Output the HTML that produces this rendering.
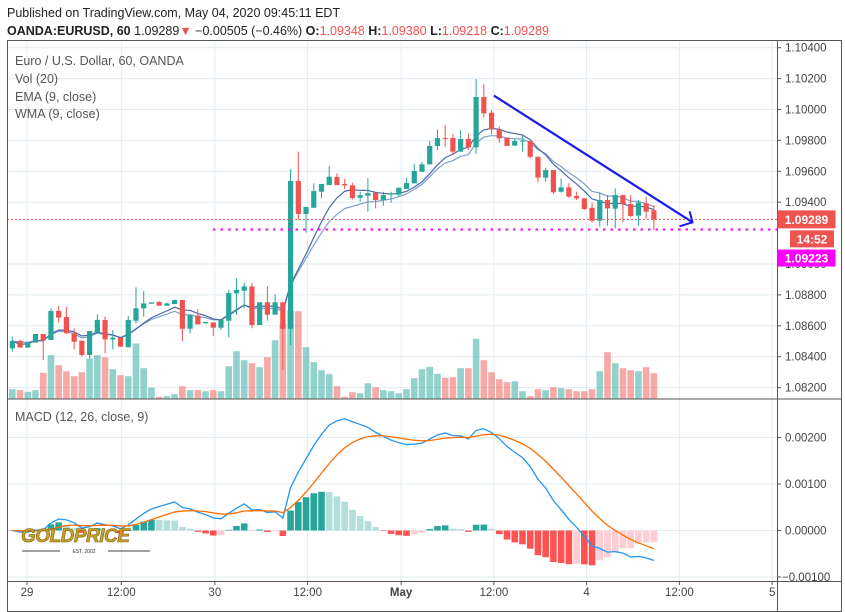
<!DOCTYPE html>
<html><head><meta charset="utf-8"><style>
body{margin:0;background:#fff;font-family:"Liberation Sans",sans-serif;}
#wrap{position:relative;width:845px;height:612px;overflow:hidden;background:#fff}
svg text{font-family:"Liberation Sans",sans-serif}
</style></head><body>
<div id="wrap">
<svg id="c" width="845" height="612" xmlns="http://www.w3.org/2000/svg">
<text x="7" y="17" font-size="12.5" fill="#222">Published on TradingView.com, May 04, 2020 09:45:11 EDT</text>
<text x="7" y="35" font-size="12.5" fill="#222"><tspan font-weight="bold">OANDA:EURUSD, 60</tspan> 1.09289<tspan fill="#ef5350">▼</tspan> −0.00505 (−0.46%) <tspan font-weight="bold">O:</tspan><tspan fill="#ef5350">1.09348</tspan> <tspan font-weight="bold">H:</tspan><tspan fill="#ef5350">1.09380</tspan> <tspan font-weight="bold">L:</tspan><tspan fill="#ef5350">1.09218</tspan> <tspan font-weight="bold">C:</tspan><tspan fill="#ef5350">1.09289</tspan></text>
<g id="grid"></g><g id="vol"></g><g id="ind"></g><g id="candles"></g><g id="macd"></g><g id="overlay"></g><g id="axes"></g>
</svg>
</div>
<script>
const opens=[1.08454,1.08502,1.08459,1.08491,1.08547,1.08508,1.08696,1.08657,1.08551,1.08504,1.08411,1.08556,1.08638,1.08512,1.08523,1.08461,1.08633,1.08713,1.08743,1.08754,1.08730,1.08741,1.08767,1.08581,1.08666,1.08616,1.08622,1.08588,1.08633,1.08810,1.08827,1.08855,1.08605,1.08752,1.08672,1.08752,1.08581,1.09537,1.09324,1.09364,1.09468,1.09511,1.09563,1.09518,1.09509,1.09429,1.09442,1.09462,1.09414,1.09449,1.09449,1.09485,1.09522,1.09597,1.09645,1.09764,1.09815,1.09815,1.09727,1.09809,1.09755,1.10081,1.09979,1.09871,1.09817,1.09766,1.09796,1.09796,1.09694,1.09559,1.09608,1.09468,1.09496,1.09440,1.09425,1.09364,1.09280,1.09414,1.09358,1.09446,1.09388,1.09313,1.09392,1.09348];
const highs=[1.08530,1.08510,1.08493,1.08547,1.08547,1.08713,1.08730,1.08722,1.08584,1.08504,1.08566,1.08674,1.08659,1.08573,1.08523,1.08663,1.08849,1.08825,1.08752,1.08760,1.08750,1.08770,1.08767,1.08670,1.08709,1.08625,1.08622,1.08640,1.08832,1.08907,1.08881,1.08877,1.08752,1.08855,1.08804,1.08752,1.09613,1.09727,1.09369,1.09522,1.09518,1.09634,1.09587,1.09550,1.09526,1.09468,1.09556,1.09462,1.09468,1.09468,1.09494,1.09559,1.09647,1.09660,1.09796,1.09871,1.09899,1.09841,1.09867,1.09845,1.10197,1.10165,1.09996,1.09889,1.09817,1.09813,1.09828,1.09796,1.09694,1.09623,1.09608,1.09554,1.09522,1.09468,1.09425,1.09397,1.09468,1.09446,1.09490,1.09446,1.09446,1.09414,1.09436,1.09380];
const lows=[1.08433,1.08459,1.08459,1.08491,1.08379,1.08508,1.08620,1.08551,1.08448,1.08400,1.08389,1.08556,1.08422,1.08448,1.08465,1.08461,1.08616,1.08659,1.08743,1.08730,1.08730,1.08741,1.08502,1.08551,1.08609,1.08616,1.08534,1.08573,1.08525,1.08670,1.08713,1.08584,1.08605,1.08633,1.08672,1.08314,1.08476,1.09289,1.09203,1.09364,1.09425,1.09511,1.09511,1.09485,1.09418,1.09403,1.09339,1.09360,1.09377,1.09397,1.09436,1.09485,1.09522,1.09597,1.09645,1.09738,1.09759,1.09705,1.09727,1.09738,1.09712,1.09947,1.09841,1.09785,1.09764,1.09766,1.09727,1.09684,1.09528,1.09533,1.09453,1.09462,1.09429,1.09414,1.09349,1.09267,1.09242,1.09248,1.09231,1.09270,1.09302,1.09248,1.09295,1.09218];
const closes=[1.08502,1.08459,1.08493,1.08547,1.08504,1.08696,1.08653,1.08551,1.08497,1.08411,1.08566,1.08638,1.08512,1.08523,1.08465,1.08638,1.08713,1.08745,1.08752,1.08730,1.08745,1.08767,1.08581,1.08670,1.08609,1.08625,1.08588,1.08640,1.08812,1.08832,1.08855,1.08605,1.08752,1.08672,1.08752,1.08581,1.09537,1.09324,1.09369,1.09472,1.09518,1.09565,1.09511,1.09509,1.09427,1.09446,1.09459,1.09414,1.09446,1.09455,1.09494,1.09524,1.09602,1.09645,1.09764,1.09815,1.09811,1.09727,1.09809,1.09755,1.10081,1.09975,1.09871,1.09813,1.09764,1.09796,1.09798,1.09694,1.09559,1.09608,1.09464,1.09496,1.09436,1.09425,1.09356,1.09280,1.09414,1.09360,1.09446,1.09388,1.09311,1.09397,1.09339,1.09289];
const volumes=[930,830,670,830,2570,4330,3330,2730,2230,2630,4000,4330,4130,2930,2330,2230,5500,3030,1100,170,230,430,1230,830,830,730,830,730,3230,4730,3830,3530,3130,4130,5830,7430,8830,8730,5130,3630,2830,2430,1230,170,630,530,1530,1130,830,730,530,930,2030,2930,3170,2470,2070,2130,3030,3030,5970,3830,2630,1930,1630,1730,730,230,930,830,1130,1030,930,730,730,930,2730,4630,3530,3030,2830,2730,3130,2530];
const priceTicks=[1.104,1.102,1.100,1.098,1.096,1.094,1.090,1.088,1.086,1.084,1.082];
const macdTicks=[0.002,0.001,0,-0.001];
const timeTickIdx=[1.9,14.1,26.2,38.2,50.3,62.3,74.3,86.3,98.3];
const timeTickLabels=["29","12:00","30","12:00","May","12:00","4","12:00","5"];
const lastPrice=1.09289, levelPrice=1.09223;
const trendStart=[62.3,1.1009], trendEnd=[88,1.0927];

const NS="http://www.w3.org/2000/svg";
const G="#26a69a",R="#ef5350";
const L=7,RX=777,TOP=40,MB=398.5,MT=398.5,MBOT=581,RIGHT=842;
const xS=i=>12.3+i*7.73;
const yP=p=>109.5+(1.1-p)*15450;
const yM=v=>530.5-v*46500;
function el(t,a,parent){const e=document.createElementNS(NS,t);for(const k in a)e.setAttribute(k,a[k]);(parent||document.getElementById('c')).appendChild(e);return e;}
const grid=document.getElementById('grid'),vol=document.getElementById('vol'),ind=document.getElementById('ind'),cg=document.getElementById('candles'),mg=document.getElementById('macd'),ov=document.getElementById('overlay'),ax=document.getElementById('axes');

// grid
timeTickIdx.forEach((t,k)=>{const x=xS(t);if(x>RX)return;
 const g=el('line',{x1:x,x2:x,y1:TOP,y2:MBOT,stroke:'#e1ecf2','stroke-width':1},grid);
 
 
});
priceTicks.forEach(p=>{const g=el('line',{x1:L,x2:RX,y1:yP(p),y2:yP(p),stroke:'#e1ecf2'},grid);
 
 });
macdTicks.forEach(v=>{const g=el('line',{x1:L,x2:RX,y1:yM(v),y2:yM(v),stroke:'#e1ecf2'},grid);
 
 });

// volume
volumes.forEach((v,i)=>{const h=v/100;const up=closes[i]>=opens[i];
 const r=el('rect',{x:xS(i)-3.3,y:MB-h,width:6.6,height:h,fill:up?'rgba(38,166,154,0.5)':'rgba(239,83,80,0.5)'},vol);
 
 });

// EMA / WMA
const ema=[];closes.forEach((c,i)=>{ema.push(i?ema[i-1]+(c-ema[i-1])*0.2:c);});
const wma=closes.map((c,i)=>{let s=0,w=0;for(let k=0;k<9&&i-k>=0;k++){s+=closes[i-k]*(9-k);w+=9-k;}return s/w;});
function pl(arr,yf,color,name,par,sw){const p=el('polyline',{points:arr.map((v,i)=>xS(i)+','+yf(v)).join(' '),fill:'none',stroke:color,'stroke-width':sw||1.2},par);
 
 }
pl(ema,yP,'#7f9fcc','ema-line',ind);
pl(wma,yP,'#4a6aa8','wma-line',ind);

// candles
opens.forEach((o,i)=>{const c=closes[i],up=c>=o,col=up?G:R,x=xS(i);
 const w=el('line',{x1:x,x2:x,y1:yP(highs[i]),y2:yP(lows[i]),stroke:col,'stroke-width':1},cg);
 
 
 const t=yP(Math.max(o,c)),h=Math.max(1,yP(Math.min(o,c))-t);
 const b=el('rect',{x:x-2.6,y:t,width:5.2,height:h,fill:col},cg);
 
 });

// MACD
function emaS(a,n){const k=2/(n+1),r=[];a.forEach((v,i)=>r.push(i?r[i-1]+(v-r[i-1])*k:v));return r;}
const e12=emaS(closes,12),e26=emaS(closes,26);
const macd=e12.map((v,i)=>v-e26[i]);const sig=emaS(macd,9);
const hist=macd.map((v,i)=>v-sig[i]);
hist.forEach((h,i)=>{const prev=i?hist[i-1]:0;let col;
 if(h>=0)col=h>=prev?'#26a69a':'#b2dfdb';else col=h<prev?'#ff5252':'#ffcdd2';
 const y0=yM(0),y1=yM(h);
 const r=el('rect',{x:xS(i)-3.3,y:Math.min(y0,y1),width:6.6,height:Math.max(0.5,Math.abs(y1-y0)),fill:col},mg);
 
 });
pl(macd,yM,'#2196f3','macd-line',mg,1.3);
pl(sig,yM,'#ff6d00','signal-line',mg,1.3);

// price lines & trendline
let ln=el('line',{x1:L,x2:RX,y1:yP(lastPrice),y2:yP(lastPrice),stroke:'#ef5350','stroke-dasharray':'2,2','stroke-width':1},ov);

ln=el('line',{x1:213,x2:RX,y1:yP(levelPrice),y2:yP(levelPrice),stroke:'#ff00ff','stroke-dasharray':'2.5,5','stroke-width':2},ov);

const tx1=xS(trendStart[0]),ty1=yP(trendStart[1]),tx2=xS(trendEnd[0]),ty2=yP(trendEnd[1]);
ln=el('line',{x1:tx1,y1:ty1,x2:tx2,y2:ty2,stroke:'#1a1aee','stroke-width':2.2},ov);

ln=el('polyline',{points:(tx2-3)+','+(ty2-11)+' '+tx2+','+ty2+' '+(tx2-13)+','+(ty2+4),fill:'none',stroke:'#1a1aee','stroke-width':2},ov);


// frames
[[L,TOP,RIGHT-L,MBOT-TOP+31]].forEach(r=>{const f=el('rect',{x:r[0]+0.5,y:r[1]+0.5,width:r[2]-1,height:r[3]-1,fill:'none',stroke:'#555'},ax);
 });
let s=el('line',{x1:RX+0.5,x2:RX+0.5,y1:TOP,y2:612,stroke:'#555'},ax);
s=el('line',{x1:L,x2:RIGHT,y1:MT+0.5,y2:MT+0.5,stroke:'#555'},ax);
s=el('line',{x1:L,x2:RIGHT,y1:MBOT+0.5,y2:MBOT+0.5,stroke:'#555'},ax);

priceTicks.forEach(p=>{const y=yP(p);
 const tk=el('line',{x1:RX,x2:RX+4,y1:y,y2:y,stroke:'#555'},ax);
 const t=el('text',{x:RX+8,y:y+4,'font-size':11.5,fill:'#444'},ax);t.textContent=p.toFixed(5);
 });
macdTicks.forEach(v=>{const y=yM(v);
 const tk=el('line',{x1:RX,x2:RX+4,y1:y,y2:y,stroke:'#555'},ax);
 const t=el('text',{x:v<0?RX+5:RX+8,y:y+4,'font-size':11.5,fill:'#444'},ax);t.textContent=(v<0?'−':'')+Math.abs(v).toFixed(5);
 });
timeTickIdx.forEach((ti,k)=>{const x=xS(ti);
 const tk=el('line',{x1:x,x2:x,y1:MBOT,y2:MBOT+4,stroke:'#555'},ax);
 const t=el('text',{x:x,y:596,'font-size':11.5,fill:'#444','text-anchor':'middle','font-weight':timeTickLabels[k]==='May'?'bold':'normal'},ax);t.textContent=timeTickLabels[k];
 });

// price badges
function badge(y,h,w,x,col,txt,name,fs){const r=el('rect',{x:x,y:y,width:w,height:h,fill:col},ax);
 
 const t=el('text',{x:x+w/2,y:y+h/2+4.5,'font-size':fs||12,fill:'#fff','text-anchor':'middle','font-weight':'bold'},ax);t.textContent=txt;
 }
badge(yP(lastPrice)-9,18,58,RX+0.5,'#ef5350',lastPrice.toFixed(5),'last-price-label');
badge(yP(lastPrice)+11,17,44,RX+13,'#ef5350','14:52','countdown-label');
badge(yP(levelPrice)+20,17,58,RX+0.5,'#ff00ff',levelPrice.toFixed(5),'level-price-label');

// legends
[['Euro / U.S. Dollar, 60, OANDA',61],['Vol (20)',79],['EMA (9, close)',97],['WMA (9, close)',114]].forEach((a,k)=>{
 const t=el('text',{x:15,y:a[1]+4,'font-size':12.5,fill:'#555'},ax);t.textContent=a[0];
 });
const mt=el('text',{x:15,y:421,'font-size':12.5,fill:'#555'},ax);mt.textContent='MACD (12, 26, close, 9)';


// logo
const lg=el('text',{x:21,y:542,'font-size':19,'font-weight':'bold','font-style':'italic',fill:'#c9a227',stroke:'#7a5c10','stroke-width':0.6,'letter-spacing':'-0.5'},ax);lg.textContent='GOLDPRICE';

let l2=el('line',{x1:22,x2:60,y1:551,y2:551,stroke:'#444'},ax);
l2=el('line',{x1:108,x2:150,y1:551,y2:551,stroke:'#444'},ax);
const es=el('text',{x:84,y:553,'font-size':5,fill:'#333','text-anchor':'middle'},ax);es.textContent='EST. 2002';

</script>
</body></html>
